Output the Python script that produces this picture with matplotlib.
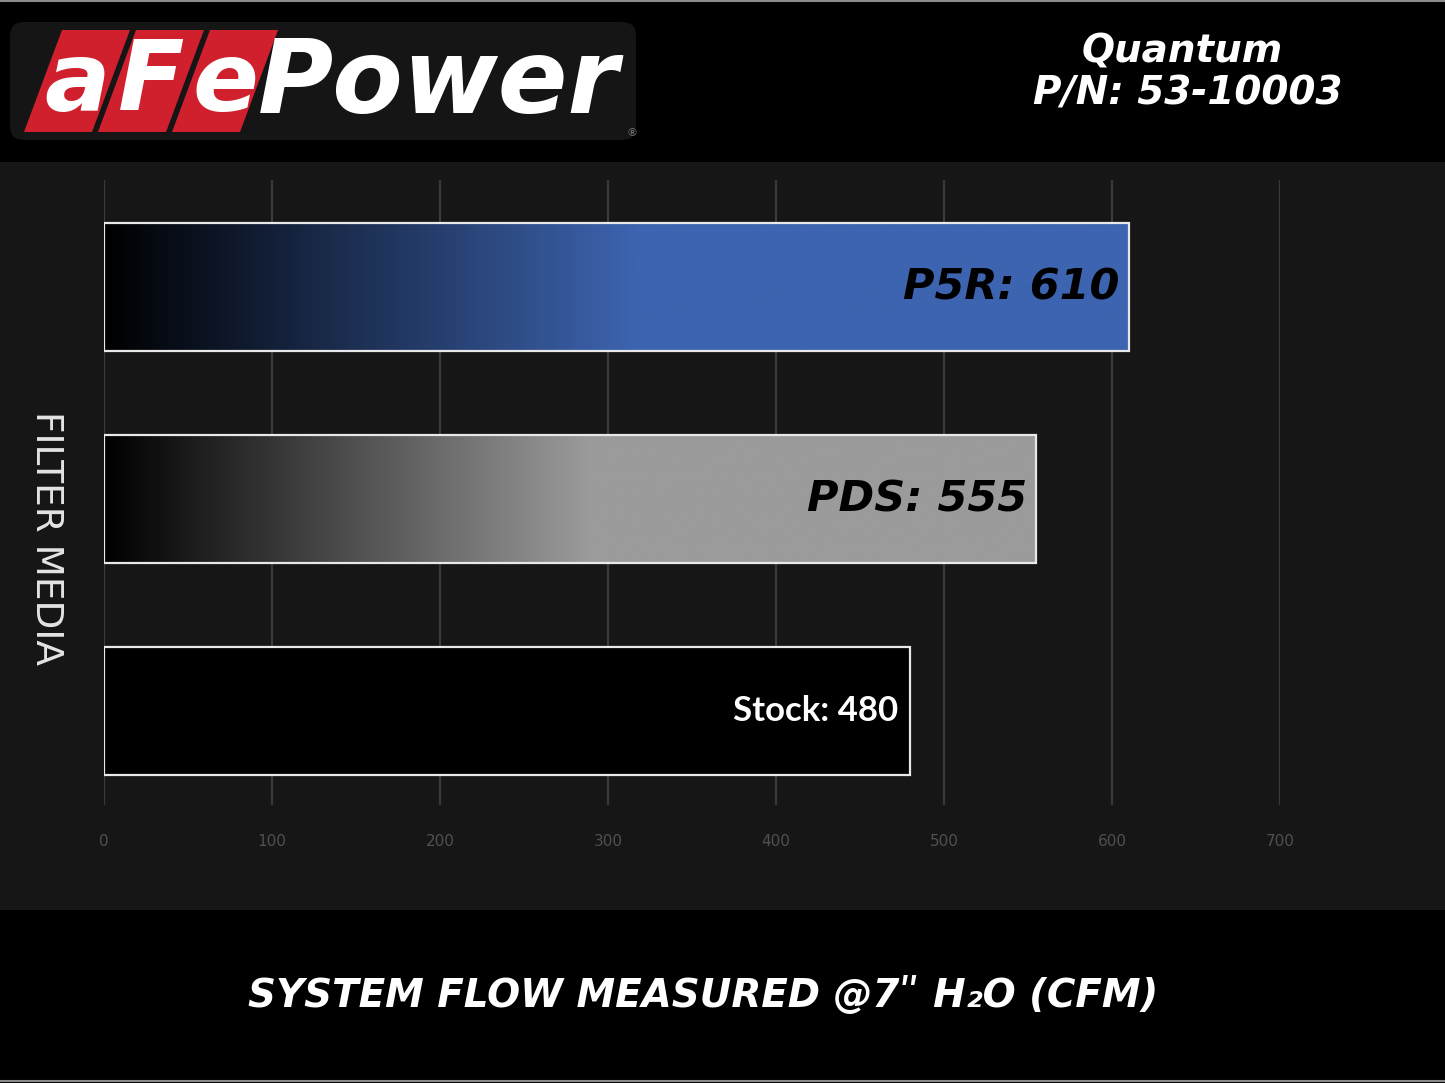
import matplotlib
matplotlib.use('Agg')
import matplotlib.pyplot as plt
import numpy as np
from matplotlib.colors import LinearSegmentedColormap
from matplotlib.patches import Rectangle, Polygon, FancyBboxPatch

# plot settings
plt.rcParams['font.family'] = ['DejaVu Sans']
plt.rcParams['savefig.facecolor'] = 'black'

# data
filters = ['P5R', 'PDS', 'Stock']
flow_cfm = [610, 555, 480]
bar_colors = ['#3d64b0', '#9b9b9b', '#000000']
label_colors = ['black', 'black', 'white']
x_ticks = [0, 100, 200, 300, 400, 500, 600, 700]
xlabel = 'SYSTEM FLOW MEASURED @7\u02ba H\u2082O (CFM)'
ylabel = 'FILTER MEDIA'
product = 'Quantum'
part_no = 'P/N: 53-10003'

W, H = 1445, 1083
fig = plt.figure(figsize=(W / 100, H / 100), dpi=100, facecolor='black')

# background layer in pixel coords
bg = fig.add_axes([0, 0, 1, 1], zorder=0)
bg.set_xlim(0, W)
bg.set_ylim(H, 0)
bg.axis('off')
bg.add_patch(Rectangle((0, 162), W, 748, color='#161616', lw=0))
bg.plot([0, W], [1, 1], color='#8a8a8a', lw=1.5)
bg.plot([0, W], [H - 2, H - 2], color='#8a8a8a', lw=1.5)

# logo
bg.add_patch(FancyBboxPatch((14, 26), 618, 110, boxstyle='round,pad=4,rounding_size=14',
                            fc='#151515', ec='none'))
for x0 in [62, 136, 210]:
    bg.add_patch(Polygon([(x0, 30), (x0 + 68, 30), (x0 + 30, 132), (x0 - 38, 132)],
                         closed=True, fc='#d0202e', ec='none'))
for ch, xc in zip(['a', 'F', 'e'], [77, 151, 225]):
    bg.text(xc, 84, ch, color='white', fontsize=70, fontweight='bold', style='italic',
            ha='center', va='center')
bg.text(438, 84, 'Power', color='white', fontsize=74, fontweight='bold', style='italic',
        ha='center', va='center')
bg.text(632, 133, '\u00ae', color='#777777', fontsize=8, ha='center', va='center')

# top right title
bg.text(1182, 52, product, color='white', fontsize=28, fontweight='bold', style='italic',
        ha='center', va='center')
bg.text(1188, 94, part_no, color='white', fontsize=28, fontweight='bold', style='italic',
        ha='center', va='center')

# main chart
ax = fig.add_axes([104 / W, 1 - 805 / H, (1280 - 104) / W, (805 - 180) / H], zorder=1)
ax.set_facecolor('none')
ypos = np.arange(len(filters))[::-1]
bar_h = 0.6

bars = ax.barh(ypos, flow_cfm, height=bar_h, color='black', lw=0, zorder=2)
for b, val, y, c in zip(bars, flow_cfm, ypos, bar_colors):
    if c != '#000000':
        cmap = LinearSegmentedColormap.from_list('g', ['#000000', c])
        t = np.clip(np.linspace(0, 1, 512) / 0.52, 0, 1)[None, :]
        im = ax.imshow(t, cmap=cmap, aspect='auto', interpolation='bilinear',
                       extent=[0, val, y - bar_h / 2, y + bar_h / 2], zorder=2.5)
        im.set_clip_path(b)
ax.barh(ypos, flow_cfm, height=bar_h, fill=False, edgecolor='#e8e8e8', lw=1.6, zorder=3)

for name, val, y, c in zip(filters, flow_cfm, ypos, label_colors):
    if name == 'Stock':
        ax.annotate(f'{name}: {val}', (val, y), xytext=(-9, 0), textcoords='offset points',
                    ha='right', va='center', color=c, fontsize=25, fontweight='bold',
                    family=['Lato', 'DejaVu Sans'], zorder=4)
    else:
        ax.annotate(f'{name}: {val}', (val, y), xytext=(-7, 0), textcoords='offset points',
                    ha='right', va='center', color=c, fontsize=31, fontweight='bold',
                    style='italic', zorder=4)

ax.set_xlim(0, 700)
ax.set_ylim(-0.443, 2.505)
ax.set_xticks(x_ticks)
ax.set_xticklabels([str(v) for v in x_ticks])
ax.set_yticks([])
ax.tick_params(axis='x', length=0, pad=21, labelsize=11, labelcolor='#505050')
for lbl in ax.get_xticklabels():
    lbl.set_family(['Liberation Sans Narrow', 'DejaVu Sans'])
ax.grid(axis='x', color='#3a3a3a', lw=1.6)
ax.set_axisbelow(True)
for s in ax.spines.values():
    s.set_visible(False)

fig.text(46 / W, 1 - 538 / H, ylabel, color='#e4e4e4', fontsize=27, rotation=-90,
         ha='center', va='center')
fig.text(703 / W, 1 - 995 / H, xlabel, color='white', fontsize=28, fontweight='bold',
         style='italic', ha='center', va='center')

plt.savefig('out.png', dpi=100, facecolor='black')
